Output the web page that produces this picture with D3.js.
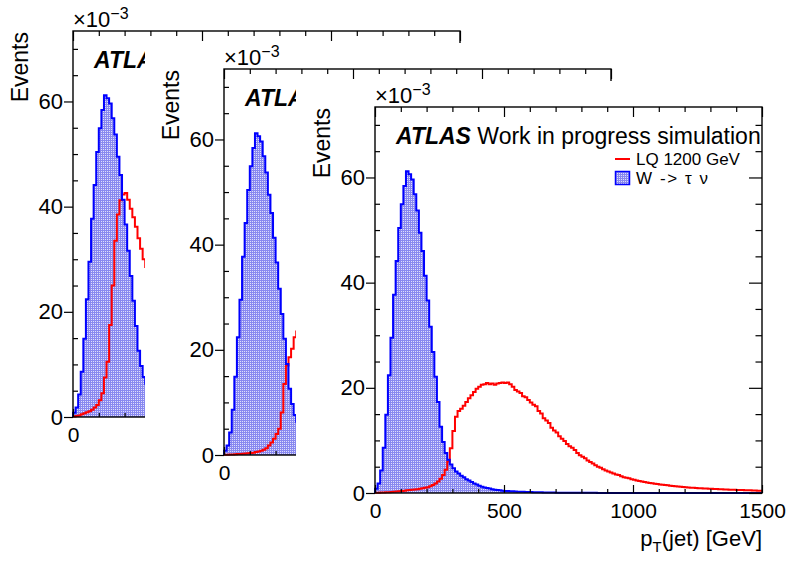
<!DOCTYPE html>
<html>
<head>
<meta charset="utf-8">
<script src="https://cdn.jsdelivr.net/npm/d3@7"></script>
<style>
body{margin:0;background:#fff}
svg{display:block;font-family:"Liberation Sans",Arial,Helvetica,sans-serif}
</style>
</head>
<body>
<svg id="c" width="788" height="561"></svg>
<script>
// histogram contents, x 0-1500 GeV in 10 GeV bins, values in units of 1e-3
var binWidth = 10;
var xMajorTicks = [0, 500, 1000, 1500];
var yMajorTicks = [0, 20, 40, 60];
var yMax = 73.4;

var wTauNu = [
  0.8, 1.8, 4.3, 8.6, 14.9, 22.4, 29.5, 37.7, 44.1, 50.4,
  54.9, 58.4, 61.2, 60.6, 59.6, 56.8, 53.7, 49.5, 46.0, 41.3,
  36.6, 31.6, 26.8, 22.1, 17.3, 12.6, 9.7, 7.6, 6.3, 5.4,
  4.7, 4.1, 3.7, 3.3, 3.0, 2.6, 2.4, 2.1, 1.8, 1.6,
  1.4, 1.2, 1.05, 0.95, 0.85, 0.7, 0.6, 0.55, 0.5, 0.45,
  0.4, 0.37, 0.34, 0.31, 0.28, 0.26, 0.24, 0.22, 0.2, 0.18,
  0.17, 0.15, 0.14, 0.13, 0.12, 0.11, 0.1, 0.09, 0.08, 0.08,
  0.07, 0.07, 0.06, 0.06, 0.05, 0.05, 0.05, 0.04, 0.04, 0.04,
  0.04, 0.03, 0.03, 0.03, 0.03, 0.03, 0.02, 0.02, 0.02, 0.02,
  0.02, 0.02, 0.02, 0.02, 0.02, 0.02, 0.02, 0.02, 0.02, 0.02,
  0.01, 0.01, 0.01, 0.01, 0.01, 0.01, 0.01, 0.01, 0.01, 0.01,
  0.01, 0.01, 0.01, 0.01, 0.01, 0.01, 0.01, 0.01, 0.01, 0.01,
  0.01, 0.01, 0.01, 0.01, 0.01, 0.01, 0.01, 0.01, 0.01, 0.01,
  0.01, 0.01, 0.01, 0.01, 0.01, 0.01, 0.01, 0.01, 0.01, 0.01,
  0.01, 0.01, 0.01, 0.01, 0.01, 0.01, 0.01, 0.01, 0.01, 0.01
];

// signal of the two canvases behind (mostly hidden)
var lqBack1 = [
  0.1, 0.2, 0.3, 0.5, 0.7, 0.9, 1.1, 1.4, 1.8, 2.3,
  3.2, 4.5, 7.5, 10.5, 17.5, 25.0, 33.5, 38.5, 41.2, 42.3,
  42.6, 41.3, 39.6, 38.0, 36.2, 34.0, 32.0, 30.0, 28.5, 27.0,
  25.6, 24.3, 23.0, 21.7, 20.4, 19.1, 17.8, 16.6, 15.5, 14.4,
  13.4, 12.5, 11.6, 10.8, 10.0, 9.3, 8.6, 8.0, 7.4, 6.9,
  6.4, 5.9, 5.5, 5.1, 4.7, 4.4, 4.1, 3.8, 3.5, 3.2,
  3.0, 2.8, 2.6, 2.4, 2.2, 2.0, 1.9, 1.8, 1.6, 1.5,
  1.4, 1.3, 1.2, 1.1, 1.0, 0.95, 0.9, 0.85, 0.8, 0.75,
  0.7, 0.65, 0.6, 0.56, 0.52, 0.48, 0.45, 0.42, 0.4, 0.37,
  0.35, 0.33, 0.31, 0.29, 0.27, 0.25, 0.24, 0.22, 0.21, 0.2
];
var lqBack2 = [
  0.05, 0.05, 0.1, 0.1, 0.15, 0.2, 0.2, 0.25, 0.3, 0.35,
  0.4, 0.45, 0.55, 0.65, 0.8, 1.0, 1.3, 1.8, 2.4, 3.1,
  4.0, 5.0, 8.1, 13.5, 17.0, 18.6, 20.2, 22.4, 23.5, 24.6,
  25.3, 25.9, 26.2, 26.0, 25.6, 24.9, 24.1, 23.2, 22.2, 21.1,
  20.0, 19.0, 18.0, 17.0, 16.1, 15.2, 14.3, 13.5, 12.7, 11.9,
  11.2, 10.5, 9.9, 9.3, 8.7, 8.2, 7.7, 7.2, 6.8, 6.4,
  6.0, 5.6, 5.3, 5.0, 4.7, 4.4, 4.1, 3.9, 3.7, 3.5,
  3.3, 3.1, 2.9, 2.7, 2.6, 2.4, 2.3, 2.2, 2.0, 1.9,
  1.8, 1.7, 1.6, 1.5, 1.45, 1.4, 1.3, 1.25, 1.2, 1.1,
  1.05, 1.0, 0.95, 0.9, 0.85, 0.8, 0.78, 0.75, 0.72, 0.7
];
var lq1200 = [
  0.05, 0.05, 0.08, 0.1, 0.12, 0.15, 0.2, 0.25, 0.3, 0.35,
  0.4, 0.45, 0.5, 0.55, 0.6, 0.65, 0.7, 0.8, 0.9, 1.0,
  1.1, 1.3, 1.5, 1.8, 2.2, 2.7, 3.4, 4.4, 6.0, 8.5,
  11.8, 14.5, 15.6, 16.0, 16.6, 17.3, 18.0, 18.6, 19.2, 19.8,
  20.2, 20.6, 20.7, 20.9, 20.7, 20.8, 20.6, 20.8, 20.9, 21.0,
  20.9, 21.0, 20.7, 20.2, 19.6, 19.3, 19.0, 18.4, 18.2, 17.7,
  17.2, 16.8, 16.5, 15.6, 15.1, 14.2, 13.8, 13.3, 12.4, 11.9,
  11.5, 10.8, 10.3, 9.9, 9.3, 8.9, 8.6, 8.2, 7.6, 7.2,
  6.9, 6.6, 6.2, 5.9, 5.6, 5.3, 5.0, 4.8, 4.5, 4.3,
  4.1, 3.9, 3.7, 3.5, 3.4, 3.2, 3.0, 2.9, 2.8, 2.6,
  2.5, 2.4, 2.3, 2.2, 2.1, 2.0, 1.9, 1.85, 1.75, 1.7,
  1.6, 1.55, 1.5, 1.45, 1.4, 1.35, 1.3, 1.25, 1.2, 1.15,
  1.1, 1.05, 1.0, 0.98, 0.95, 0.92, 0.9, 0.87, 0.85, 0.82,
  0.8, 0.78, 0.75, 0.72, 0.7, 0.68, 0.66, 0.64, 0.62, 0.6,
  0.58, 0.56, 0.55, 0.53, 0.52, 0.5, 0.48, 0.47, 0.45, 0.44
];
var signals = [lqBack1, lqBack2, lq1200];
var legendLabels = ["LQ 1200 GeV", "W -> \u03c4 \u03bd"];

var W = 387, H = 386;
var svg = d3.select("#c");

// ROOT-like dotted fill (opaque tile)
var pat = svg.append("defs").append("pattern").attr("id", "dots")
  .attr("patternUnits", "userSpaceOnUse").attr("width", 2).attr("height", 2)
  .attr("shape-rendering", "crispEdges");
pat.append("rect").attr("width", 2).attr("height", 2).attr("fill", "#8888f0");
pat.append("rect").attr("width", 1).attr("height", 1).attr("fill", "#dedefb");

var x = d3.scaleLinear().domain([0, 1500]).range([0, W]);
var y = d3.scaleLinear().domain([0, yMax]).range([H, 0]);

function stepPath(vals, closed) {
  var p = d3.path();
  if (closed) { p.moveTo(x(0), y(0)); p.lineTo(x(0), y(vals[0])); }
  else p.moveTo(x(0), y(vals[0]));
  vals.forEach(function(v, i) {
    p.lineTo(x(i * binWidth), y(v));
    p.lineTo(x((i + 1) * binWidth), y(v));
  });
  if (closed) p.lineTo(x(vals.length * binWidth), y(0));
  return p.toString();
}

function minor(step, max, major) {
  return d3.range(0, max + 0.001, step).filter(function(v) { return major.indexOf(v) < 0; });
}

function drawPanel(k) {
  var front = k == 2;
  var g = svg.append("g").attr("transform", "translate(" + (73 + 151 * k) + "," + (31 + 38 * k) + ")");
  g.append("rect").attr("x", -79).attr("y", -26).attr("width", 620).attr("height", 620).attr("fill", "#fff");

  g.append("path").attr("d", stepPath(wTauNu, true)).attr("fill", "url(#dots)").attr("stroke", "none");
  g.append("path").attr("d", stepPath(signals[k], false))
    .attr("fill", "none").attr("stroke", "#ff0000").attr("stroke-width", 2);
  g.append("path").attr("d", stepPath(wTauNu, true))
    .attr("fill", "none").attr("stroke", "#0000ff").attr("stroke-width", 2);

  // axes
  var xMinor = minor(100, 1500, xMajorTicks), yMinor = minor(5, yMax, yMajorTicks);
  function strip(a) { a.select(".domain").remove(); a.attr("font-family", null); }
  g.append("g").attr("transform", "translate(0," + H + ")")
    .call(d3.axisBottom(x).tickValues(xMajorTicks).tickSize(-8).tickPadding(10).tickFormat(d3.format("d")))
    .call(strip).attr("font-size", 21);
  g.append("g").attr("transform", "translate(0," + H + ")")
    .call(d3.axisBottom(x).tickValues(xMinor).tickSize(-4).tickFormat("")).call(strip);
  g.append("g").call(d3.axisTop(x).tickValues(xMajorTicks).tickSize(-10).tickFormat("")).call(strip);
  g.append("g").call(d3.axisTop(x).tickValues(xMinor).tickSize(-5).tickFormat("")).call(strip);
  g.append("g")
    .call(d3.axisLeft(y).tickValues(yMajorTicks).tickSize(9).tickPadding(1))
    .call(strip).attr("font-size", 22);
  g.append("g").call(d3.axisLeft(y).tickValues(yMinor).tickSize(-5).tickFormat("")).call(strip);
  g.append("g").attr("transform", "translate(" + W + ",0)")
    .call(d3.axisRight(y).tickValues(yMajorTicks).tickSize(-13).tickFormat("")).call(strip);
  g.append("g").attr("transform", "translate(" + W + ",0)")
    .call(d3.axisRight(y).tickValues(yMinor).tickSize(-6.5).tickFormat("")).call(strip);
  g.selectAll(".tick line").attr("stroke-width", 1.2);

  g.append("rect").attr("width", W).attr("height", H)
    .attr("fill", "none").attr("stroke", "#000").attr("stroke-width", 1.4);

  var ex = g.append("text").attr("x", 0).attr("y", -4);
  ex.append("tspan").attr("font-size", 22).text("\u00d710");
  ex.append("tspan").attr("dy", -8).attr("font-size", 16).text("\u22123");

  g.append("text").attr("transform", "translate(-45,1) rotate(-90)")
    .attr("text-anchor", "end").attr("font-size", 23).text("Events");

  var xt = g.append("text").attr("x", W).attr("y", H + 53).attr("text-anchor", "end").attr("font-size", 22);
  xt.append("tspan").text("p");
  xt.append("tspan").attr("dy", 6).attr("font-size", 15).text("T");
  xt.append("tspan").attr("dy", -6).text("(jet) [GeV]");

  var at = g.append("text").attr("x", 21).attr("y", 37).attr("font-size", 23);
  at.append("tspan").attr("font-weight", "bold").attr("font-style", "italic").text("ATLAS");
  at.append("tspan").text(" Work in progress simulation");

  if (front) {
    var lg = g.append("g").attr("transform", "translate(240,52)").attr("font-size", 17);
    lg.append("line").attr("x1", 0).attr("x2", 15).attr("y1", 0).attr("y2", 0)
      .attr("stroke", "#ff0000").attr("stroke-width", 2);
    lg.append("text").attr("x", 21).attr("y", 6).text(legendLabels[0]);
    lg.append("rect").attr("x", 0.5).attr("y", 12.5).attr("width", 14).attr("height", 13)
      .attr("fill", "url(#dots)").attr("stroke", "#0000ff").attr("stroke-width", 1.5);
    lg.append("text").attr("x", 21).attr("y", 25)
      .attr("textLength", 72).attr("lengthAdjust", "spacing").text(legendLabels[1]);
  }
}

[0, 1, 2].forEach(drawPanel);
</script>
</body>
</html>
